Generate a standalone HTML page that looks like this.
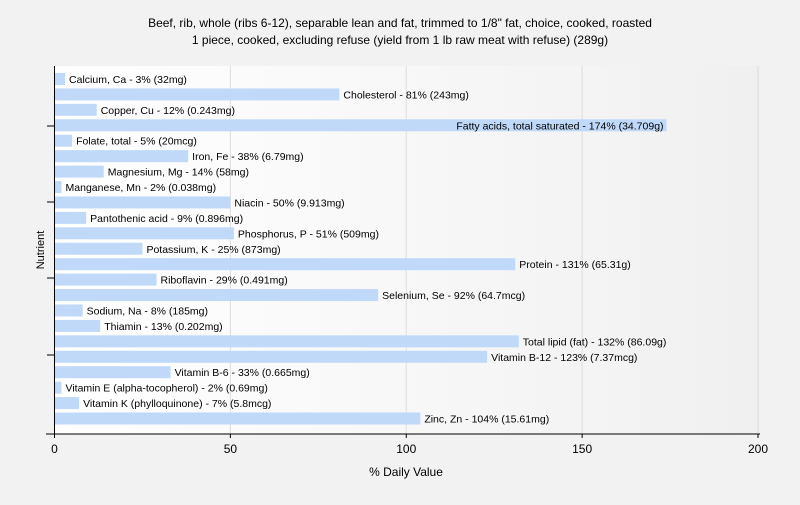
<!DOCTYPE html>
<html><head><meta charset="utf-8"><style>
body{margin:0;background:#f2f2f2;font-family:"Liberation Sans",sans-serif}
svg text{font-family:"Liberation Sans",sans-serif;fill:#000}
</style></head><body>
<svg width="800" height="500">
<defs><linearGradient id="bg" x1="0" x2="1" y1="0" y2="0"><stop offset="0" stop-color="#ffffff"/><stop offset="1" stop-color="#f0f0f0"/></linearGradient></defs>
<rect x="0" y="0" width="800" height="500" fill="#f2f2f2"/>
<text x="400" y="27" text-anchor="middle" font-size="12">Beef, rib, whole (ribs 6-12), separable lean and fat, trimmed to 1/8" fat, choice, cooked, roasted</text>
<text x="400" y="44" text-anchor="middle" font-size="12">1 piece, cooked, excluding refuse (yield from 1 lb raw meat with refuse) (289g)</text>
<rect x="55" y="66" width="705" height="368" fill="url(#bg)"/>
<g id="grid"></g><g id="bars"></g><g id="axes"></g>
<text x="406" y="476" text-anchor="middle" font-size="12">% Daily Value</text>
<text transform="translate(44,250) rotate(-90)" text-anchor="middle" font-size="11">Nutrient</text>
</svg>
<script>
const categories=["Calcium, Ca","Cholesterol","Copper, Cu","Fatty acids, total saturated","Folate, total","Iron, Fe","Magnesium, Mg","Manganese, Mn","Niacin","Pantothenic acid","Phosphorus, P","Potassium, K","Protein","Riboflavin","Selenium, Se","Sodium, Na","Thiamin","Total lipid (fat)","Vitamin B-12","Vitamin B-6","Vitamin E (alpha-tocopherol)","Vitamin K (phylloquinone)","Zinc, Zn"];
const values=[3,81,12,174,5,38,14,2,50,9,51,25,131,29,92,8,13,132,123,33,2,7,104];
const amounts=["32mg","243mg","0.243mg","34.709g","20mcg","6.79mg","58mg","0.038mg","9.913mg","0.896mg","509mg","873mg","65.31g","0.491mg","64.7mcg","185mg","0.202mg","86.09g","7.37mcg","0.665mg","0.69mg","5.8mcg","15.61mg"];
const xTicks=[0,50,100,150,200];
const NS="http://www.w3.org/2000/svg";
const x0=54.5,x1=758,y0=79,step=(418.5-79)/(categories.length-1);
function xs(v){return x0+(x1-x0)*v/200;}
function ys(i){return y0+i*step;}
function mk(p,t,a){const e=document.createElementNS(NS,t);for(const k in a)e.setAttribute(k,a[k]);p.appendChild(e);return e;}
const grid=document.getElementById('grid'),bars=document.getElementById('bars'),axes=document.getElementById('axes');
xTicks.forEach(t=>{if(t>0){const g=mk(grid,'line',{x1:xs(t),x2:xs(t),y1:66,y2:434,stroke:'#dddddd'});

}
const tk=mk(axes,'line',{x1:xs(t),x2:xs(t),y1:434,y2:438,stroke:'#000'});


const tl=mk(axes,'text',{x:xs(t),y:453,'text-anchor':'middle','font-size':12});tl.textContent=t;

});
categories.forEach((c,i)=>{const y=ys(i);
const r=mk(bars,'rect',{x:x0,y:y-6,width:xs(values[i])-x0,height:12,fill:'#c0d9f9'});


const t=mk(bars,'text',{x:xs(values[i])+4,y:y+4,'font-size':10.5});t.textContent=c+' - '+values[i]+'% ('+amounts[i]+')';


const w=t.getComputedTextLength();
if(xs(values[i])+4+w>795){t.setAttribute('x',xs(values[i])-3);t.setAttribute('text-anchor','end');}});
const ya=mk(axes,'line',{x1:x0,x2:x0,y1:66,y2:434,stroke:'#000'});


const xa=mk(axes,'line',{x1:46,x2:760,y1:434,y2:434,stroke:'#000'});


[126,202,278,355].forEach(y=>{const l=mk(axes,'line',{x1:47,x2:x0,y1:y,y2:y,stroke:'#000'});

});
</script>
</body></html>
